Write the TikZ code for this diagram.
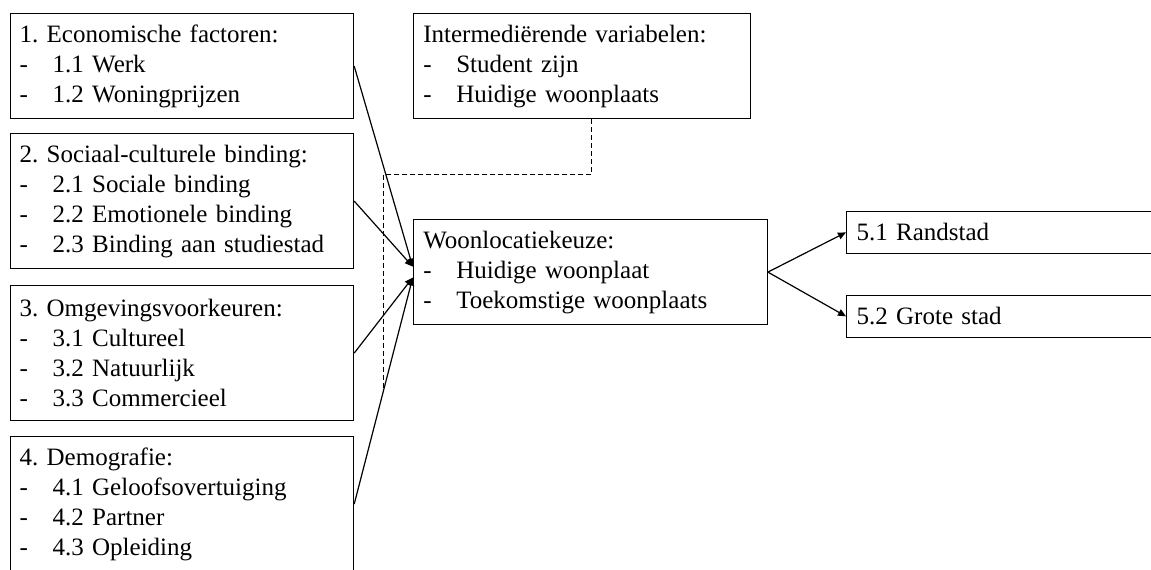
\documentclass[tikz,border=0pt]{standalone}
\usepackage{fontspec}
\setmainfont{Liberation Serif}
\usetikzlibrary{arrows.meta, positioning, calc}
\frenchspacing
\newcommand{\sub}[2][33pt]{\makebox[#1][l]{-}#2}

\begin{document}
\begin{tikzpicture}[
    x=1pt, y=-1pt,
    box/.style={rectangle, draw, line width=1.2pt, anchor=north west, align=left, inner ysep=0pt, font=\fontsize{25pt}{30pt}\selectfont},
    leftbox/.style={box, inner xsep=9pt, text width=325pt},
    midbox/.style={box, inner xsep=10pt},
    outbox/.style={box, inner xsep=10pt, text width=300pt, minimum height=41.5pt},
    arr/.style={-{Triangle[length=8pt,width=7pt]}, line width=1.2pt},
    dashline/.style={line width=1.3pt, dash pattern=on 5pt off 3pt}
]
    \useasboundingbox (0,0) rectangle (1151,570);

    % factoren links
    \node[leftbox, minimum height=105pt] (econ) at (10,13) {1. Economische factoren:\\\sub{1.1 Werk}\\\sub{1.2 Woningprijzen}};
    \node[leftbox, minimum height=135pt] (sociaal) at (10,133) {2. Sociaal-culturele binding:\\\sub{2.1 Sociale binding}\\\sub{2.2 Emotionele binding}\\\sub{2.3 Binding aan studiestad}};
    \node[leftbox, minimum height=135pt] (omgeving) at (10,285) {3. Omgevingsvoorkeuren:\\\sub{3.1 Cultureel}\\\sub{3.2 Natuurlijk}\\\sub{3.3 Commercieel}};
    \node[leftbox, minimum height=135pt] (demo) at (10,436) {4. Demografie:\\\sub{4.1 Geloofsovertuiging}\\\sub{4.2 Partner}\\\sub{4.3 Opleiding}};

    % midden
    \node[midbox, text width=317pt, minimum height=105pt] (inter) at (412.7,13) {Intermedi\"erende variabelen:\\\sub{Student zijn}\\\sub{Huidige woonplaats}};
    \node[midbox, text width=334pt, minimum height=105pt] (keuze) at (412.7,219) {Woonlocatiekeuze:\\\sub{Huidige woonplaat}\\\sub{Toekomstige woonplaats}};

    % uitkomsten
    \node[outbox] (rand) at (846,211) {5.1 Randstad};
    \node[outbox] (grote) at (846,295) {5.2 Grote stad};

    \coordinate (kin1) at ([yshift=5.5pt]keuze.west);
    \coordinate (kin2) at ([yshift=-5.5pt]keuze.west);
    \coordinate (dmid) at ($(demo.east)!0.5!(kin2)$);

    \draw[arr] (econ.east) -- (kin1);
    \draw[arr] (sociaal.east) -- (kin1);
    \draw[arr] (omgeving.east) -- (kin2);
    \draw[arr] (demo.east) -- (kin2);
    \draw[arr] (keuze.east) -- (rand.west);
    \draw[arr] (keuze.east) -- (grote.west);
    \draw[dashline] ([xshift=10pt]inter.south) -- ++(0,55.5) -| (dmid);
\end{tikzpicture}
\end{document}
